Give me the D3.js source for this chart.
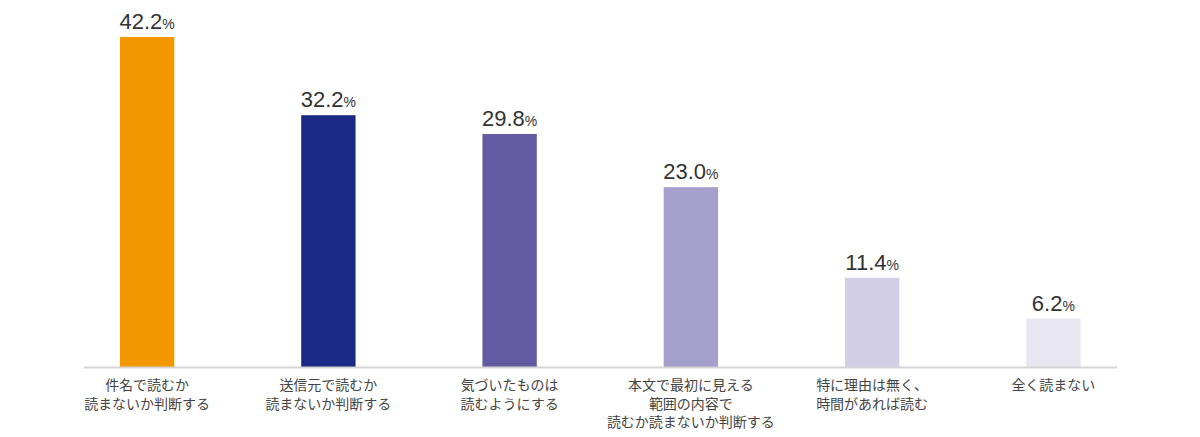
<!DOCTYPE html>
<html>
<head>
<meta charset="utf-8">
<script src="https://cdn.jsdelivr.net/npm/d3@7"></script>
<style>
  html, body { margin: 0; padding: 0; background: #fff; }
  #chart-area { width: 1200px; height: 437px; }
  text { font-family: "Noto Sans CJK JP", "Noto Sans", sans-serif; }
  .value-label { font-family: "Liberation Sans", Arial, sans-serif; fill: #333; }
  .cat-label { fill: #444; font-size: 14px; }
</style>
</head>
<body>
<div id="chart-area"></div>
<script>
const categories = [
  ["件名で読むか", "読まないか判断する"],
  ["送信元で読むか", "読まないか判断する"],
  ["気づいたものは", "読むようにする"],
  ["本文で最初に見える", "範囲の内容で", "読むか読まないか判断する"],
  ["特に理由は無く、", "時間があれば読む"],
  ["全く読まない"]
]
const values = [42.2, 32.2, 29.8, 23.0, 11.4, 6.2]
const colors = ["#f39800", "#1b2a85", "#625ba1", "#a59fcb", "#d1cee6", "#e8e6f1"]

const w = 1200
const h = 437
const baseY = 367

const svg = d3.select("#chart-area")
  .append("svg")
  .attr("width", w)
  .attr("height", h)

const x = d3.scaleBand()
  .domain(d3.range(categories.length))
  .range([56.5, 1144])
  .paddingInner(0.7)
  .paddingOuter(0.35)

const y = d3.scaleLinear()
  .domain([0, 42.2])
  .range([baseY, 37])

svg.selectAll("rect.bar")
  .data(values)
  .enter()
  .append("rect")
  .attr("class", "bar")
  .attr("x", (d, i) => x(i))
  .attr("y", (d) => y(d))
  .attr("width", x.bandwidth())
  .attr("height", (d) => baseY - y(d))
  .attr("fill", (d, i) => colors[i])

// baseline
svg.append("line")
  .attr("x1", 84)
  .attr("x2", 1117)
  .attr("y1", baseY + 0.5)
  .attr("y2", baseY + 0.5)
  .attr("stroke", "#d4d4d4")
  .attr("stroke-width", 2)

const vl = svg.selectAll("text.value-label")
  .data(values)
  .enter()
  .append("text")
  .attr("class", "value-label")
  .attr("x", (d, i) => x(i) + x.bandwidth() / 2)
  .attr("y", (d) => y(d) - 8)
  .attr("text-anchor", "middle")

vl.append("tspan")
  .attr("font-size", 22)
  .text((d) => d.toFixed(1))
vl.append("tspan")
  .attr("font-size", 14)
  .text("%")

const cl = svg.selectAll("text.cat-label")
  .data(categories)
  .enter()
  .append("text")
  .attr("class", "cat-label")
  .attr("text-anchor", "middle")

cl.selectAll("tspan")
  .data((d, i) => d.map((line) => ({ line: line, i: i })))
  .enter()
  .append("tspan")
  .attr("x", (d) => x(d.i) + x.bandwidth() / 2)
  .attr("y", (d, j) => 390 + j * 18.5)
  .text((d) => d.line)
</script>
</body>
</html>
